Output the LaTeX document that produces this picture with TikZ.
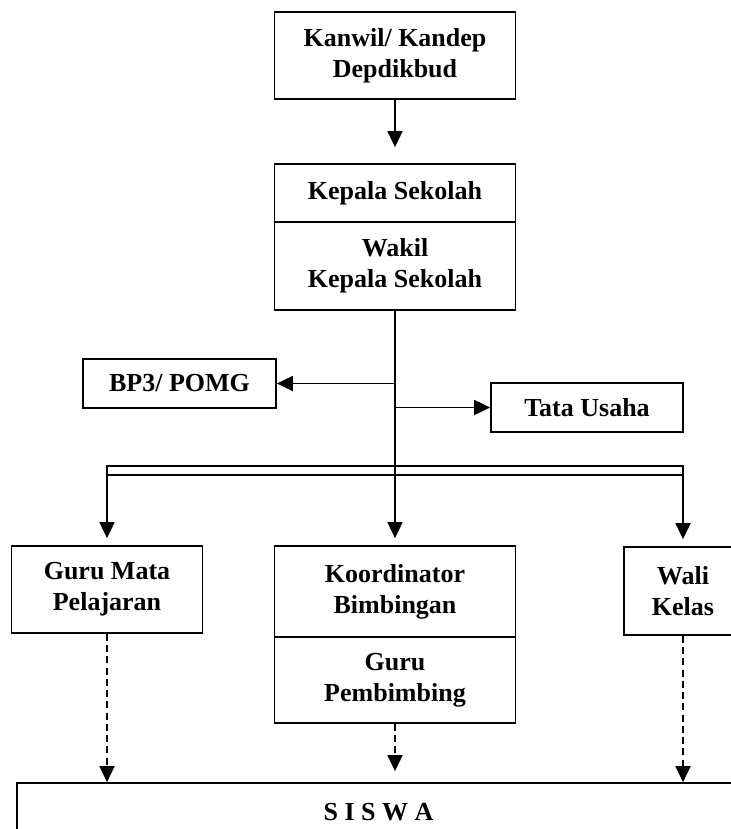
\documentclass[tikz,border=0pt]{standalone}
\usepackage{fontspec}
\setmainfont{Liberation Serif}
\usetikzlibrary{arrows.meta}

\tikzset{
	box/.style={draw, line width=1pt, align=center, inner sep=0pt, font=\fontsize{14.8}{17.5}\selectfont\bfseries},
	dashline/.style={dash pattern=on 4pt off 2.4pt},
}

\begin{document}
\begin{tikzpicture}[>={Triangle[width=0.3cm,length=0.32cm]}, line width=1pt]
	\useasboundingbox (0,0) rectangle (14.62,-16.58);
	\node[box, minimum width=4.82cm, minimum height=1.74cm, name=kanwil] at (7.9, -1.11) {Kanwil/ Kandep\\Depdikbud};
	\node[box, minimum width=4.82cm, minimum height=1.16cm, name=kepala] at (7.9, -3.86) {Kepala Sekolah};
	\node[box, minimum width=4.82cm, minimum height=1.76cm, name=wakil] at (7.9, -5.32) {Wakil\\Kepala Sekolah};
	\node[box, minimum width=3.86cm, minimum height=0.98cm, name=bp3] at (3.59, -7.67) {BP3/ POMG};
	\node[box, minimum width=3.84cm, minimum height=0.98cm, name=tu] at (11.74, -8.15) {Tata Usaha};
	\node[box, minimum width=3.82cm, minimum height=1.74cm, name=guru] at (2.14, -11.79) {Guru Mata\\Pelajaran};
	\node[box, minimum width=4.82cm, minimum height=1.82cm, name=koord] at (7.9, -11.83) {Koordinator\\Bimbingan};
	\node[box, minimum width=4.82cm, minimum height=1.72cm, name=gurubp] at (7.9, -13.6) {Guru\\Pembimbing};
	\node[box, minimum width=2.36cm, minimum height=1.76cm, name=wali] at (13.66, -11.82) {Wali\\Kelas};
	\node[box, minimum width=14.46cm, minimum height=1.16cm, name=siswa] at (7.57, -16.24) {S I S W A};
	\coordinate (jbp) at (7.9, -7.67);
	\coordinate (jtu) at (7.9, -8.15);
	\coordinate (barl) at (2.14, -9.32);
	\coordinate (barr) at (13.66, -9.5);
	\coordinate (bl) at (2.14, -9.5);
	\draw[->, shorten >=0.32cm] (kanwil.south) -- (kepala.north);
	\draw[->, shorten >=0.14cm] (wakil.south) -- (koord.north);
	\draw[->] (jbp) -- (bp3.east);
	\draw[->] (jtu) -- (tu.west);
	\draw (barl) rectangle (barr);
	\draw[->, shorten >=0.14cm] (bl) -- (guru.north);
	\draw[->, shorten >=0.14cm] (barr) -- (wali.north);
	\draw[->, dashline] (guru.south) -- (guru.south |- siswa.north);
	\draw[->, dashline, shorten >=0.22cm] (gurubp.south) -- (gurubp.south |- siswa.north);
	\draw[->, dashline] (wali.south) -- (wali.south |- siswa.north);
\end{tikzpicture}
\end{document}
